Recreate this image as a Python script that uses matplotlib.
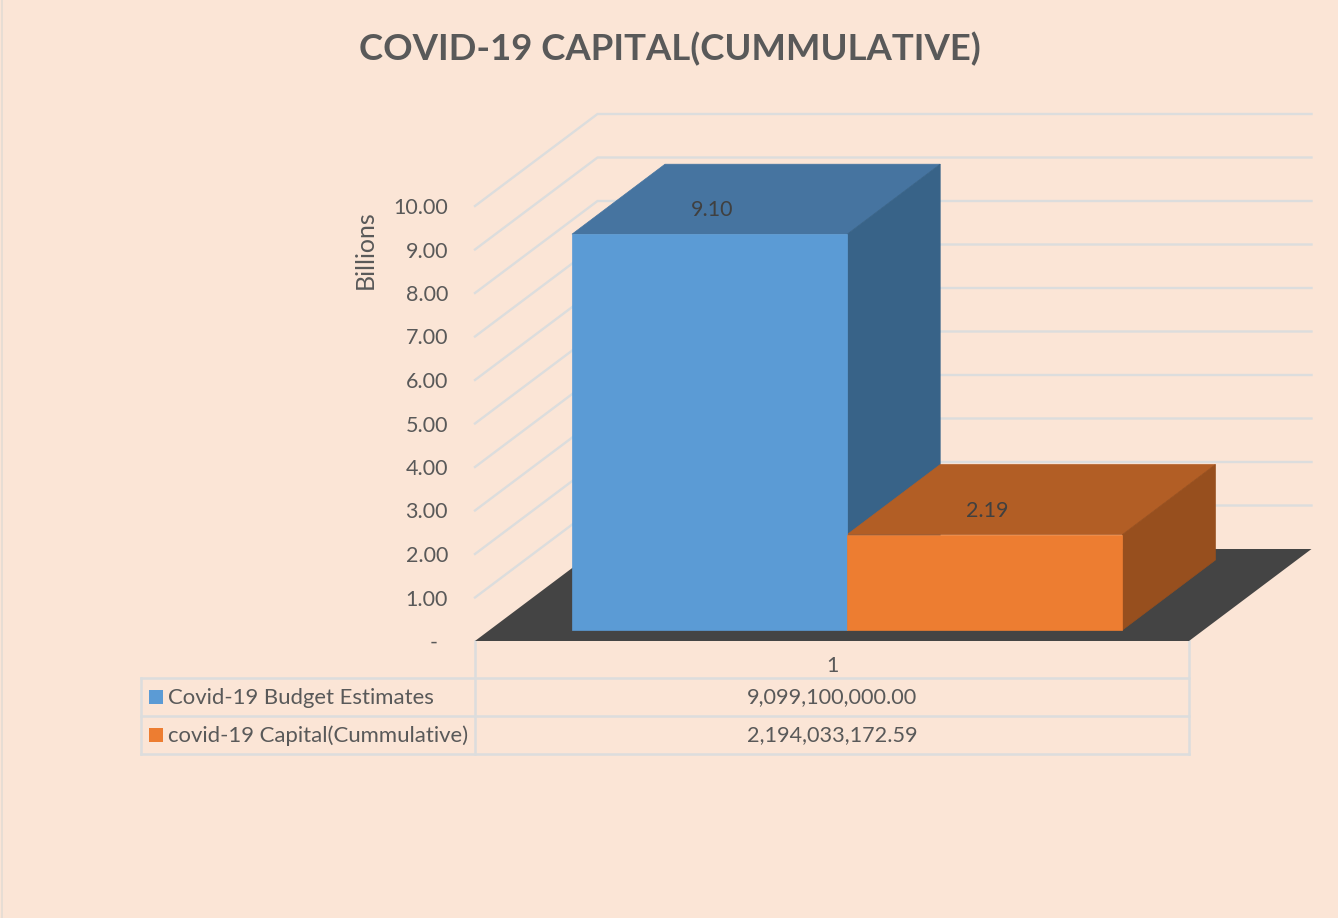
import matplotlib
matplotlib.use('Agg')
import matplotlib.pyplot as plt
from matplotlib.patches import Polygon, Rectangle

plt.rcParams['font.family'] = ['Lato', 'DejaVu Sans']

# Data
series_names = ['Covid-19 Budget Estimates', 'covid-19 Capital(Cummulative)']
series_values = [9099100000.00, 2194033172.59]
series_labels = ['9.10', '2.19']
y_ticks = [0, 1, 2, 3, 4, 5, 6, 7, 8, 9, 10]
y_tick_labels = ['-', '1.00', '2.00', '3.00', '4.00', '5.00', '6.00', '7.00', '8.00', '9.00', '10.00']
category = '1'

# Colours
bg = '#FBE5D6'
grid = '#DCDDDD'
text_col = '#595959'
front_cols = ['#5B9BD5', '#ED7D31']
top_cols = ['#4674A0', '#B25E25']
side_cols = ['#386388', '#974F1E']
floor_col = '#444444'

# Pixel geometry of the oblique 3D box
x_left, x_right = 475, 1189
y_floor, unit = 641, 43.5
dx_wall, dy_wall = 122.5, -92
bar_inset_y = -11
bar_dx, bar_dy = 93, -70
bar_left, bar_w = 572, 275.2


def wall_y(v):
    return y_floor - v * unit


fig = plt.figure(figsize=(13.38, 9.18), dpi=100, facecolor=bg)
ax = fig.add_axes([0, 0, 1, 1])
ax.set_xlim(0, 1338)
ax.set_ylim(918, 0)
ax.axis('off')

# Chart border
ax.plot([1.5, 1.5], [0, 918], color='#E4DCD4', lw=1.2)

# Gridlines on side and back walls
for v, lab in zip(y_ticks, y_tick_labels):
    y0 = wall_y(v)
    if v > 0:
        ax.plot([x_left, x_left + dx_wall, x_right + dx_wall],
                [y0, y0 + dy_wall, y0 + dy_wall], color=grid, lw=1.7, zorder=1,
                solid_joinstyle='miter')
    # the zero label is a dash with trailing space in the source format
    ax.text(448 if v > 0 else 438, y0 + 2, lab, ha='right', va='center',
            fontsize=15.5, color=text_col)

# Floor
ax.add_patch(Polygon([(x_left, y_floor), (x_right, y_floor),
                      (x_right + dx_wall, y_floor + dy_wall),
                      (x_left + dx_wall, y_floor + dy_wall)],
                     closed=True, fc=floor_col, ec='none', zorder=2))

# Bars: left one first, the top of the right one lies over its side face
for i in [0, 1]:
    h = series_values[i] / 1e9 * unit
    x0 = bar_left + i * bar_w
    x1 = x0 + bar_w
    yb = y_floor + bar_inset_y
    yt = yb - h
    ax.add_patch(Polygon([(x0, yt), (x1, yt), (x1 + bar_dx, yt + bar_dy), (x0 + bar_dx, yt + bar_dy)],
                         closed=True, fc=top_cols[i], ec=top_cols[i], lw=0.5, zorder=3))
    ax.add_patch(Polygon([(x1, yt), (x1 + bar_dx, yt + bar_dy), (x1 + bar_dx, yb + bar_dy), (x1, yb)],
                         closed=True, fc=side_cols[i], ec=side_cols[i], lw=0.5, zorder=3))
    ax.add_patch(Rectangle((x0, yt), bar_w, h, fc=front_cols[i], ec=front_cols[i], lw=0.5, zorder=4))
    ax.text(x0 + 140, yt - 24, series_labels[i], ha='center', va='center',
            fontsize=15.5, color='#404040', zorder=5)

# Data table
t_left = 141
row_y = [678, 716, 754]
for y in row_y:
    ax.plot([t_left, x_right], [y, y], color=grid, lw=1.8, zorder=1)
ax.plot([t_left, t_left], [row_y[0], row_y[-1]], color=grid, lw=1.8, zorder=1)
ax.plot([x_left, x_left], [y_floor, row_y[-1]], color=grid, lw=1.8, zorder=1)
ax.plot([x_right, x_right], [y_floor, row_y[-1]], color=grid, lw=1.8, zorder=1)

table_cx = (x_left + x_right) / 2 + 0.5
ax.text(table_cx, 666, category, ha='center', va='center', fontsize=15.5, color=text_col)
for i, name in enumerate(series_names):
    yc = (row_y[i] + row_y[i + 1]) / 2 + 0.5
    ax.add_patch(Rectangle((149, yc - 7.5), 14, 14, fc=front_cols[i], ec='none'))
    ax.text(168, yc, name, ha='left', va='center', fontsize=15.9, color=text_col)
    ax.text(table_cx, yc, f'{series_values[i]:,.2f}', ha='center', va='center',
            fontsize=15.6, color=text_col)

ax.text(365, 250, 'Billions', rotation=90, ha='center', va='center', fontsize=18, color=text_col)
ax.text(669.5, 49.5, 'COVID-19 CAPITAL(CUMMULATIVE)', ha='center', va='center',
        fontsize=26.3, fontweight='bold', color=text_col)

fig.savefig('out.png', dpi=100, facecolor=bg)
